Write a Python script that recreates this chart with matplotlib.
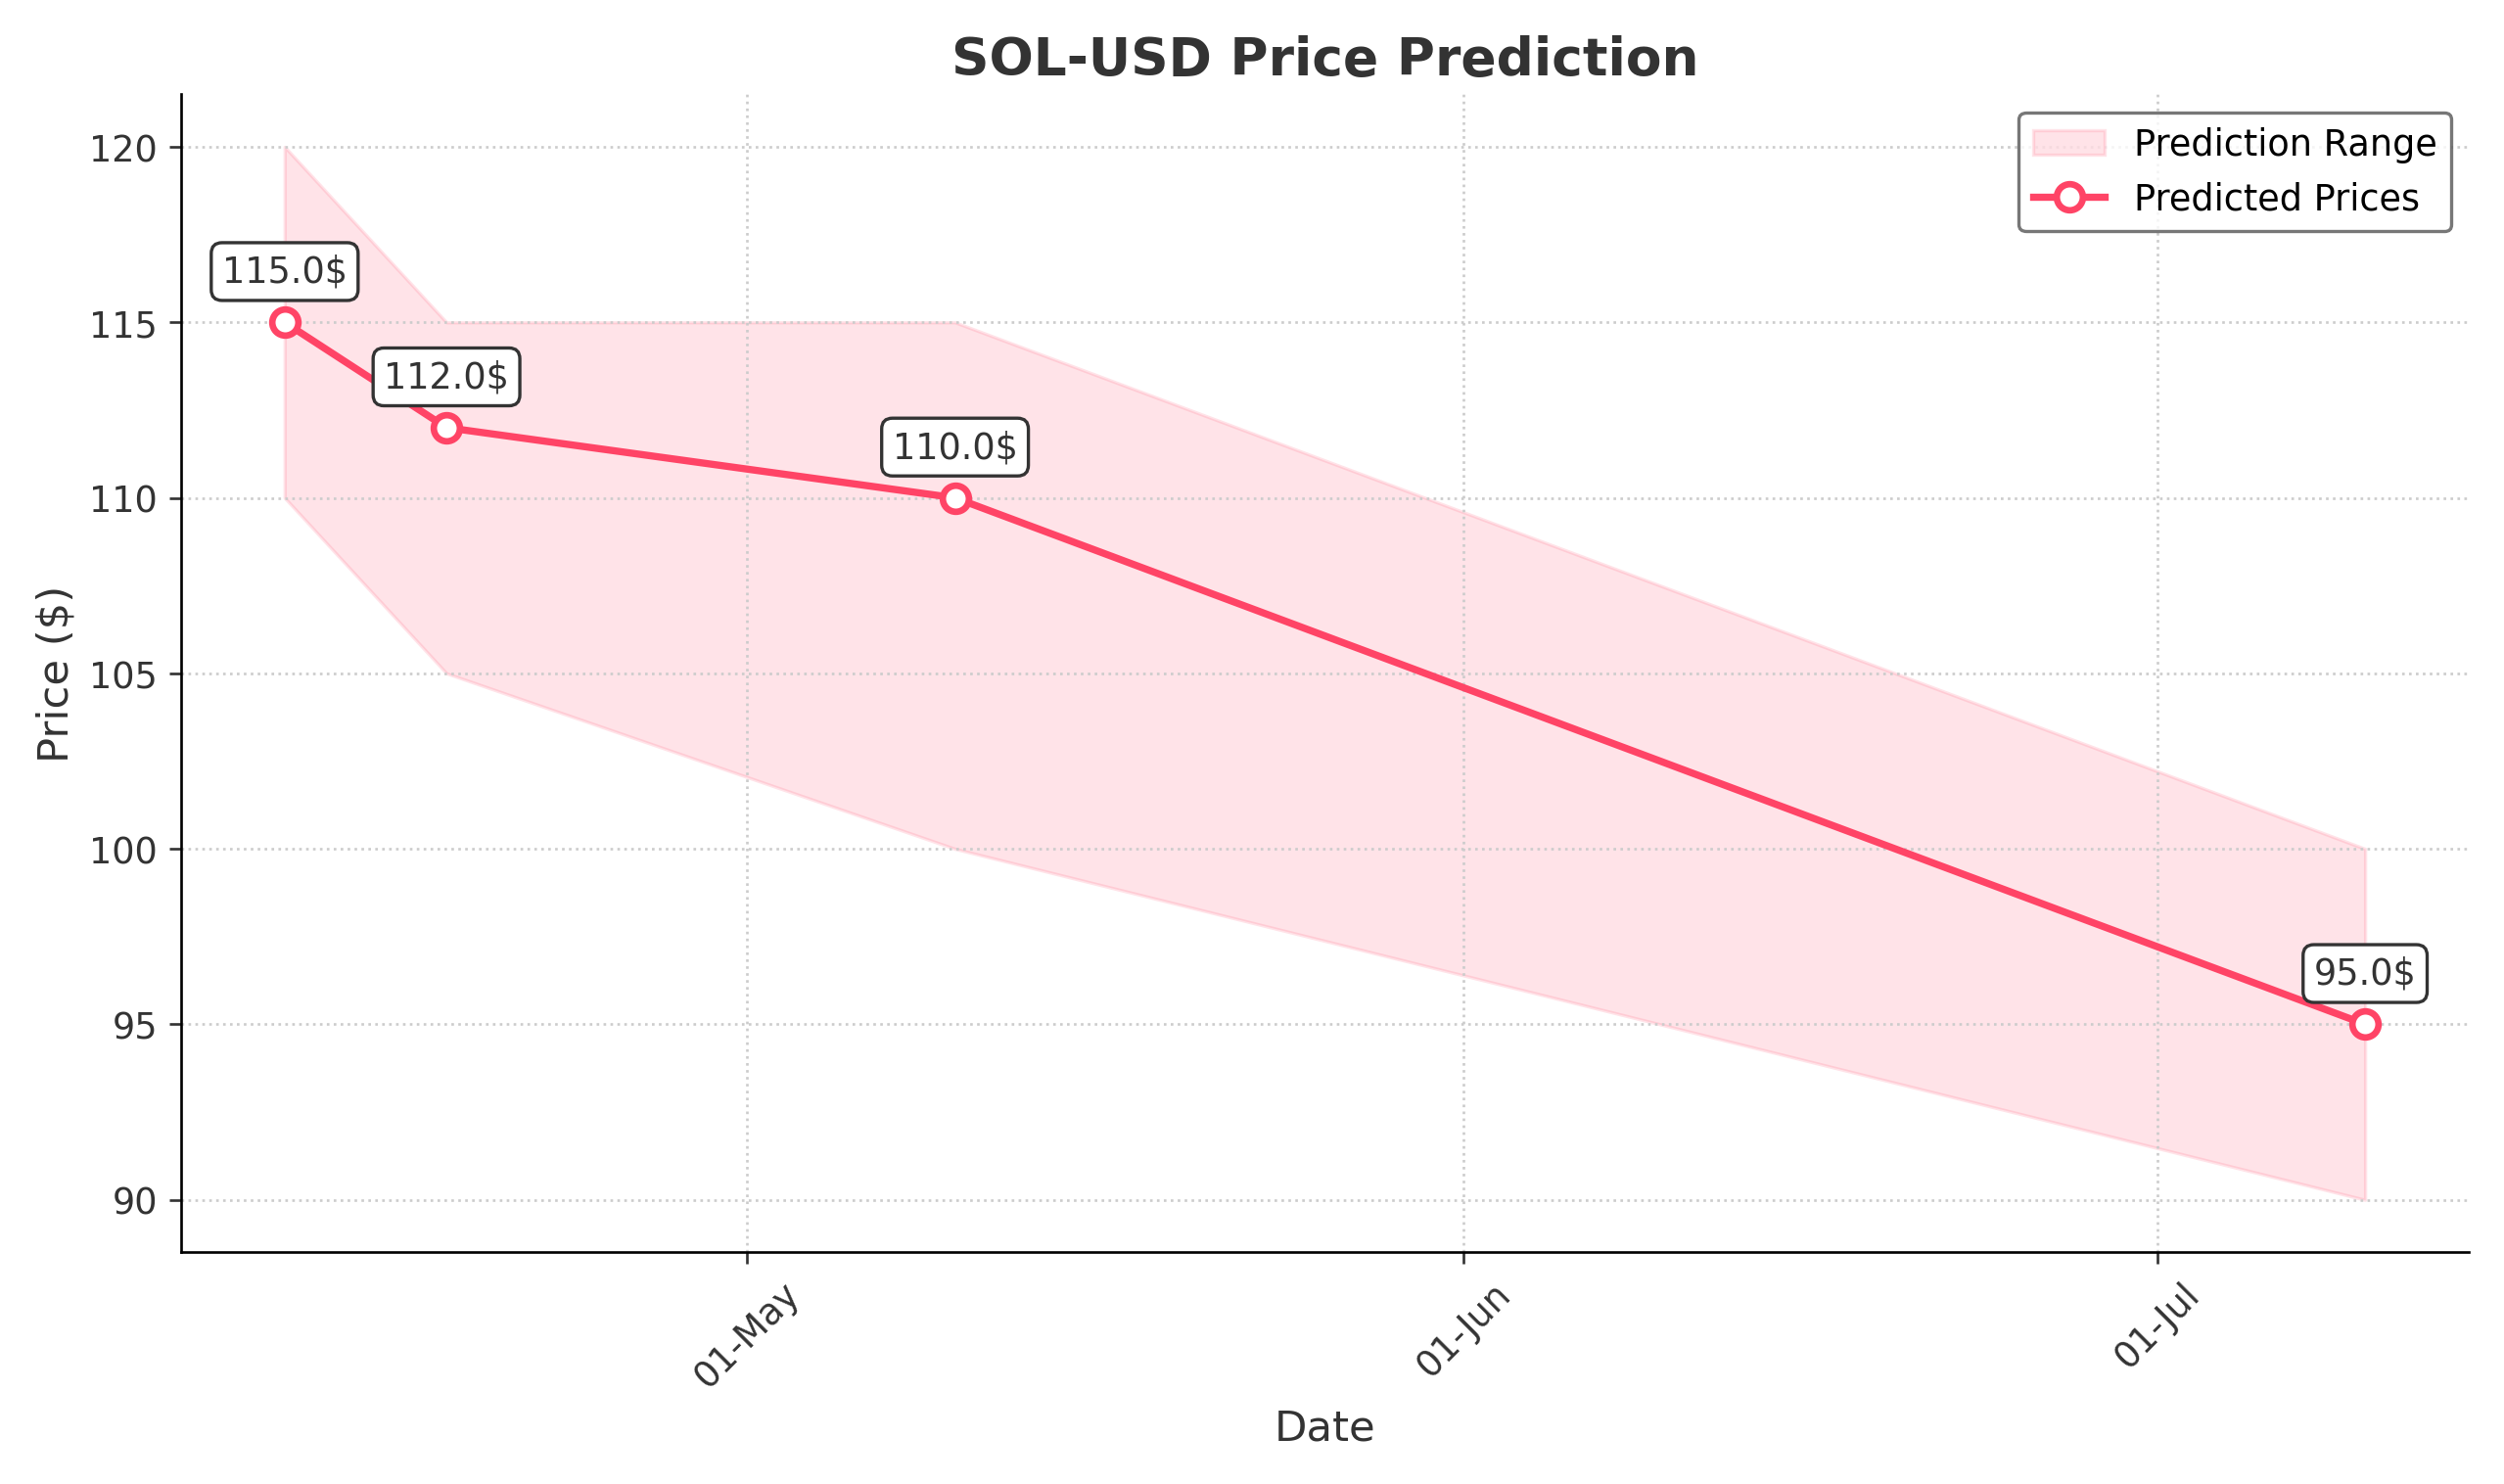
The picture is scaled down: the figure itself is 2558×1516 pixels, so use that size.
import matplotlib
matplotlib.use("Agg")
import matplotlib.pyplot as plt
import matplotlib.dates as mdates
import pandas as pd

dates = ["2024-04-11", "2024-04-18", "2024-05-10", "2024-07-10"]
predicted = [115.0, 112.0, 110.0, 95.0]
lower = [110, 105, 100, 90]
upper = [120, 115, 115, 100]

d = pd.to_datetime(dates)
color = "#FF4466"
fig, ax = plt.subplots(figsize=(10.66, 6.32), dpi=240)
ax.fill_between(d, lower, upper, color=color, alpha=0.15, label="Prediction Range")
ax.plot(d, predicted, color=color, lw=2.2, marker="o", markersize=8,
        markerfacecolor="white", markeredgewidth=2, label="Predicted Prices")
for x, y in zip(d, predicted):
    ax.annotate(f"{y}$", (x, y), xytext=(0, 10), textcoords="offset points",
                ha="center", va="bottom", fontsize=11, color="#333333",
                bbox=dict(boxstyle="round,pad=0.3", fc="white", ec="#333333", lw=1))
ax.set_title("SOL-USD Price Prediction", fontsize=16, fontweight="bold", color="#333333")
ax.set_xlabel("Date", fontsize=13, color="#333333")
ax.set_ylabel("Price ($)", fontsize=13, color="#333333")
ax.xaxis.set_major_locator(mdates.MonthLocator())
ax.xaxis.set_major_formatter(mdates.DateFormatter("%d-%b"))
plt.setp(ax.get_xticklabels(), rotation=45)
ax.tick_params(labelsize=11, colors="#333333")
ax.grid(True, linestyle=":", color="#cccccc")
ax.spines["top"].set_visible(False)
ax.spines["right"].set_visible(False)
ax.legend(loc="upper right", fontsize=11, edgecolor="#555555")
ax.set_ylim(88.5, 121.5)
fig.tight_layout()
fig.savefig("out.png")
